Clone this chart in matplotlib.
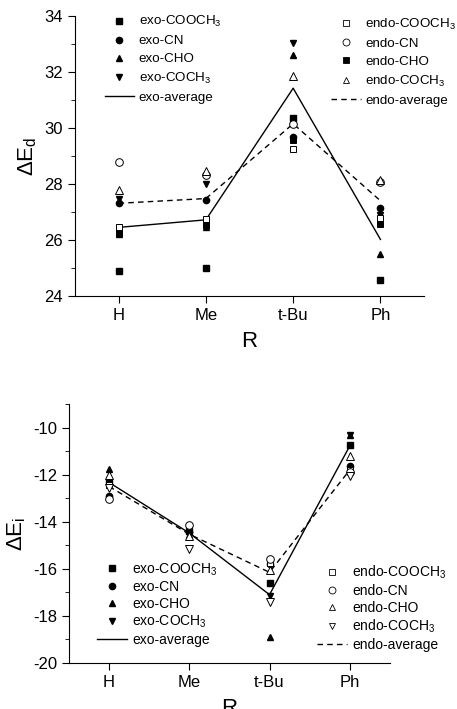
import matplotlib
matplotlib.use('Agg')
import matplotlib.pyplot as plt
from matplotlib.lines import Line2D
from matplotlib.ticker import MultipleLocator
import numpy as np

plt.rcParams['font.family'] = ['Liberation Sans', 'DejaVu Sans']
plt.rcParams['mathtext.fontset'] = 'custom'
plt.rcParams['mathtext.rm'] = 'Liberation Sans'
plt.rcParams['mathtext.it'] = 'Liberation Sans:italic'
plt.rcParams['axes.unicode_minus'] = False

groups = ['H', 'Me', 't-Bu', 'Ph']

# top panel: deformation energy
d_exo_cooch3 = [24.9, 24.99, 30.35, 24.57]
d_exo_cn = [27.31, 27.43, 29.69, 27.13]
d_exo_cho = [26.2, 26.45, 32.61, 25.5]
d_exo_coch3 = [27.45, 27.99, 33.05, 26.88]
d_exo_avg = [26.45, 26.72, 31.42, 26.02]
d_endo_cooch3 = [26.45, 26.74, 29.24, 26.77]
d_endo_cn = [28.79, 28.32, 30.13, 28.06]
d_endo_cho = [26.25, 26.54, 29.57, 26.57]
d_endo_coch3 = [27.79, 28.45, 31.86, 28.14]
d_endo_avg = [27.31, 27.48, 30.15, 27.4]

# bottom panel: interaction energy
i_exo_cooch3 = [-12.3, -14.4, -16.6, -10.72]
i_exo_cn = [-12.89, -14.45, -15.8, -11.62]
i_exo_cho = [-11.76, -14.55, -18.88, -10.3]
i_exo_coch3 = [-12.3, -14.5, -17.14, -10.3]
i_exo_avg = [-12.33, -14.48, -17.1, -10.78]
i_endo_cooch3 = [-12.45, -14.2, -15.76, -11.8]
i_endo_cn = [-13.03, -14.15, -15.59, -11.9]
i_endo_cho = [-12.0, -14.6, -16.04, -11.19]
i_endo_coch3 = [-12.57, -15.15, -17.42, -12.04]
i_endo_avg = [-12.5, -14.53, -16.15, -11.8]

x = np.arange(len(groups))
fig = plt.figure(figsize=(4.57, 7.09), dpi=100)
ax1 = fig.add_axes([0.164, 0.5825, 0.764, 0.395])
ax2 = fig.add_axes([0.151, 0.065, 0.702, 0.365])

ms = 4.5


def draw(ax, exo, endo, exo_avg, endo_avg, endo_styles):
    ax.plot(x, exo_avg, 'k-', lw=1, zorder=2)
    ax.plot(x, endo_avg, 'k--', lw=1, dashes=(4, 3), zorder=2)
    exo_styles = [('s', 'k'), ('o', 'k'), ('^', 'k'), ('v', 'k')]
    for vals, (m, fc) in zip(exo, exo_styles):
        ax.plot(x, vals, ls='none', marker=m, ms=ms, mfc=fc, mec='k', zorder=3)
    for vals, (m, fc, s) in zip(endo, endo_styles):
        ax.plot(x, vals, ls='none', marker=m, ms=s, mfc=fc, mec='k', mew=0.7, zorder=4)


def legends(ax, endo_styles, loc1, loc2, fs=10, sp=0.2):
    names = ['COOCH$_3$', 'CN', 'CHO', 'COCH$_3$']
    exo_m = ['s', 'o', '^', 'v']
    h1 = [Line2D([], [], ls='none', marker=m, ms=4.5, mfc='k', mec='k') for m in exo_m]
    h1.append(Line2D([], [], color='k', lw=1))
    l1 = ['exo-' + n for n in names] + ['exo-average']
    h2 = [Line2D([], [], ls='none', marker=m, ms=s - 0.5, mfc=fc, mec='k', mew=0.6)
          for m, fc, s in endo_styles]
    h2.append(Line2D([], [], color='k', lw=1, ls='--', dashes=(4, 3)))
    l2 = ['endo-' + n for n in names] + ['endo-average']
    opts = dict(loc='upper left', frameon=False, fontsize=fs, handlelength=2.2,
                labelspacing=sp, borderpad=0, handletextpad=0.35)
    leg1 = ax.legend(h1, l1, bbox_to_anchor=loc1, **opts)
    ax.add_artist(leg1)
    ax.legend(h2, l2, bbox_to_anchor=loc2, **opts)


def style(ax, ylab, ylim, major):
    ax.spines['top'].set_visible(False)
    ax.spines['right'].set_visible(False)
    ax.set_xlim(-0.5, 3.5)
    ax.set_ylim(*ylim)
    ax.set_xticks(x)
    ax.set_xticklabels(groups)
    ax.yaxis.set_major_locator(MultipleLocator(major))
    ax.yaxis.set_minor_locator(MultipleLocator(major / 2))
    ax.tick_params(axis='both', which='major', direction='out', length=5, labelsize=12)
    ax.tick_params(axis='y', which='minor', direction='out', length=3)
    ax.set_xlabel('R', fontsize=16, labelpad=6)
    ax.set_ylabel(ylab, fontsize=16)


top_endo = [('s', 'w', 5), ('o', 'w', 5.5), ('s', 'k', 4.5), ('^', 'w', 5.5)]
draw(ax1, [d_exo_cooch3, d_exo_cn, d_exo_cho, d_exo_coch3],
     [d_endo_cooch3, d_endo_cn, d_endo_cho, d_endo_coch3],
     d_exo_avg, d_endo_avg, top_endo)
style(ax1, r'$\Delta$E$_\mathrm{d}$', (24, 34), 2)
legends(ax1, top_endo, (0.066, 1.03), (0.715, 1.02), fs=9.6, sp=0.42)

bot_endo = [('s', 'w', 5), ('o', 'w', 5.5), ('^', 'w', 5.5), ('v', 'w', 5.5)]
draw(ax2, [i_exo_cooch3, i_exo_cn, i_exo_cho, i_exo_coch3],
     [i_endo_cooch3, i_endo_cn, i_endo_cho, i_endo_coch3],
     i_exo_avg, i_endo_avg, bot_endo)
style(ax2, r'$\Delta$E$_\mathrm{i}$', (-20, -9), 2)
legends(ax2, bot_endo, (0.065, 0.42), (0.75, 0.41))

fig.savefig('out.png', dpi=100)
